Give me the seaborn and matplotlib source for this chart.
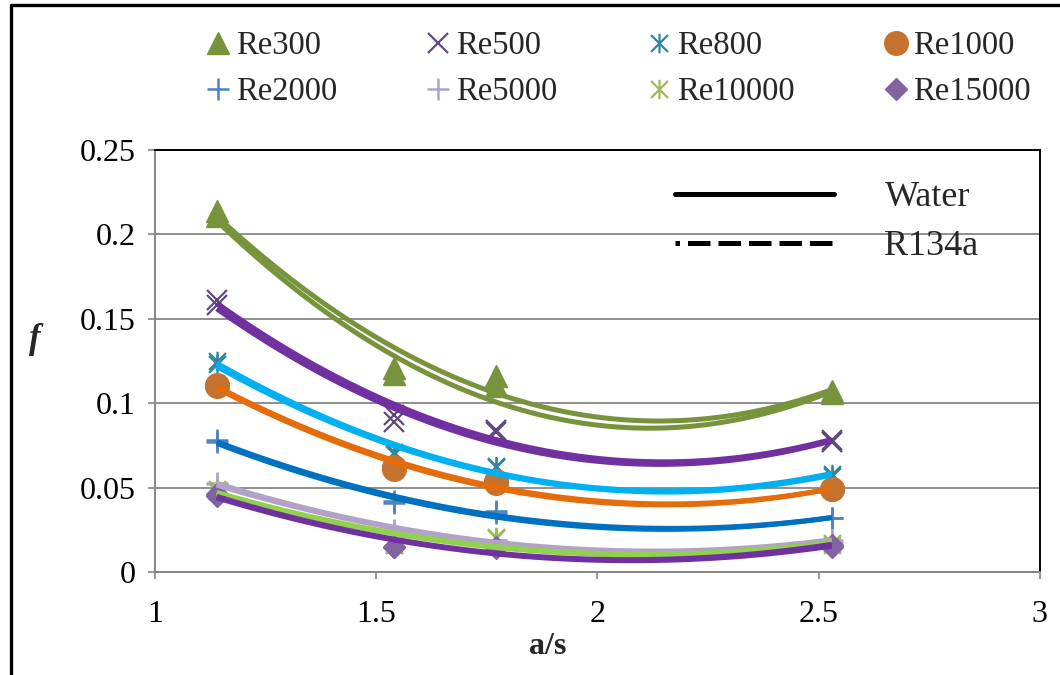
import numpy as np
import matplotlib
matplotlib.use("Agg")
import matplotlib.pyplot as plt
from matplotlib.lines import Line2D
from matplotlib.path import Path
import seaborn as sns

# ---- data -------------------------------------------------------------
a_s = [1.14, 1.54, 1.77, 2.53]

re_labels = ["Re300", "Re500", "Re800", "Re1000",
             "Re2000", "Re5000", "Re10000", "Re15000"]

# friction factor, water
f_water_re300 = [0.214, 0.121, 0.116, 0.107]
f_water_re500 = [0.161, 0.093, 0.084, 0.078]
f_water_re800 = [0.125, 0.071, 0.063, 0.058]
f_water_re1000 = [0.111, 0.062, 0.054, 0.049]
f_water_re2000 = [0.078, 0.042, 0.036, 0.032]
f_water_re5000 = [0.053, 0.025, 0.019, 0.019]
f_water_re10000 = [0.049, 0.016, 0.021, 0.017]
f_water_re15000 = [0.046, 0.015, 0.015, 0.016]

# friction factor, R134a
f_r134a_re300 = [0.211, 0.117, 0.110, 0.106]
f_r134a_re500 = [0.158, 0.089, 0.083, 0.077]
f_r134a_re800 = [0.123, 0.070, 0.062, 0.057]
f_r134a_re1000 = [0.110, 0.061, 0.053, 0.049]
f_r134a_re2000 = [0.077, 0.041, 0.035, 0.032]
f_r134a_re5000 = [0.052, 0.024, 0.019, 0.018]
f_r134a_re10000 = [0.048, 0.016, 0.020, 0.016]
f_r134a_re15000 = [0.045, 0.015, 0.014, 0.015]

f_water = [f_water_re300, f_water_re500, f_water_re800, f_water_re1000,
           f_water_re2000, f_water_re5000, f_water_re10000, f_water_re15000]
f_r134a = [f_r134a_re300, f_r134a_re500, f_r134a_re800, f_r134a_re1000,
           f_r134a_re2000, f_r134a_re5000, f_r134a_re10000, f_r134a_re15000]

x_ticks = [1, 1.5, 2, 2.5, 3]
x_tick_labels = ["1", "1.5", "2", "2.5", "3"]
y_ticks = [0, 0.05, 0.1, 0.15, 0.2, 0.25]
y_tick_labels = ["0", "0.05", "0.1", "0.15", "0.2", "0.25"]

# ---- styles -----------------------------------------------------------
star = Path([(-1, -1), (1, 1), (-1, 1), (1, -1), (0, -1.15), (0, 1.15)],
            [Path.MOVETO, Path.LINETO, Path.MOVETO, Path.LINETO,
             Path.MOVETO, Path.LINETO])

marker_styles = [
    dict(marker="^", ms=16, mfc="#77933C", mec="#77933C", mew=1),
    dict(marker="x", ms=14, mfc="none", mec="#604A7B", mew=1.6),
    dict(marker=star, ms=14, mfc="none", mec="#31859C", mew=1.6),
    dict(marker="o", ms=17, mfc="#C6722F", mec="#C6722F", mew=1),
    dict(marker="+", ms=16, mfc="none", mec="#4F81BD", mew=1.8),
    dict(marker="+", ms=16, mfc="none", mec="#B3A2C7", mew=1.8),
    dict(marker=star, ms=14, mfc="none", mec="#9BBB59", mew=1.6),
    dict(marker="D", ms=11, mfc="#8064A2", mec="#8064A2", mew=1),
]
trend_colors = ["#77933C", "#7030A0", "#00B0F0", "#E46C0A",
                "#0070C0", "#B3A2C7", "#92D050", "#7030A0"]

sns.set_theme(style="white")
plt.rcParams["font.family"] = ["Liberation Serif", "DejaVu Serif"]

fig = plt.figure(figsize=(10.6, 6.75), dpi=100)
ax = fig.add_axes([0.146, 0.1526, 0.835, 0.6252])

grid_gray = "#868686"
for i in range(len(re_labels)):
    for series in (f_water[i], f_r134a[i]):
        ax.plot(a_s, series, ls="none", zorder=2, **marker_styles[i])
    # second-order polynomial trendlines
    for series in (f_water[i], f_r134a[i]):
        sns.regplot(x=np.array(a_s), y=np.array(series), order=2, ci=None,
                    scatter=False, truncate=True, ax=ax,
                    line_kws=dict(color=trend_colors[i], lw=3.6, zorder=3,
                                  solid_capstyle="butt"))

ax.set_xlim(1, 3)
ax.set_ylim(0, 0.25)
ax.set_xticks(x_ticks)
ax.set_xticklabels(x_tick_labels)
ax.set_yticks(y_ticks)
ax.set_yticklabels(y_tick_labels)
ax.set_xlabel("")
ax.set_ylabel("")
ax.yaxis.grid(True, color=grid_gray, lw=1.3, zorder=0)
ax.xaxis.grid(False)
ax.set_axisbelow(True)

for side in ("left", "bottom"):
    ax.spines[side].set_color(grid_gray)
    ax.spines[side].set_linewidth(1.4)
for side in ("top", "right"):
    ax.spines[side].set_color("black")
    ax.spines[side].set_linewidth(1.4)

ax.tick_params(axis="y", direction="out", length=5, width=1.2, color=grid_gray,
               pad=9, labelsize=23, left=True, labelcolor="black")
ax.tick_params(axis="x", direction="out", length=5, width=1.2, color=grid_gray,
               pad=15, labelsize=23, bottom=True, labelcolor="black")

fig.text(548 / 1060, 1 - 646 / 675, "a/s", ha="center", va="center",
         fontsize=23, fontweight="bold")
fig.text(35 / 1060, 1 - 340 / 675, "f", ha="center", va="center",
         fontsize=25, fontweight="bold", style="italic")

# Reynolds-number legend (two rows, four columns)
handles = [Line2D([], [], ls="none", **marker_styles[i]) for i in range(8)]
order = [0, 4, 1, 5, 2, 6, 3, 7]
fig.legend([handles[k] for k in order], [re_labels[k] for k in order],
           ncol=4, loc="upper left", bbox_to_anchor=(205 / 1060, 1 - 31 / 675),
           frameon=False, fontsize=23.5, handlelength=0.8, handletextpad=0.15,
           columnspacing=2.7, labelspacing=0.46, borderpad=0, borderaxespad=0)

# fluid legend
fluid_handles = [Line2D([], [], color="black", lw=3.6),
                 Line2D([], [], color="black", lw=3.6, ls=(3.6, (4.5, 1.6)))]
ax.legend(fluid_handles, ["Water", "R134a"], loc="upper left",
          bbox_to_anchor=(675 / 1060, 1 - 181 / 675),
          bbox_transform=fig.transFigure, frameon=False, fontsize=26,
          handlelength=4.4, handletextpad=1.4, labelspacing=0.44,
          borderpad=0, borderaxespad=0)

# outer frame (left and top edges)
fig.add_artist(Line2D([11 / 1060, 11 / 1060], [0, 1 - 5 / 675],
                      color="black", lw=2.4, transform=fig.transFigure))
fig.add_artist(Line2D([11 / 1060, 1], [1 - 5 / 675, 1 - 5 / 675],
                      color="black", lw=2.4, transform=fig.transFigure))

fig.savefig("out.png", dpi=100)
